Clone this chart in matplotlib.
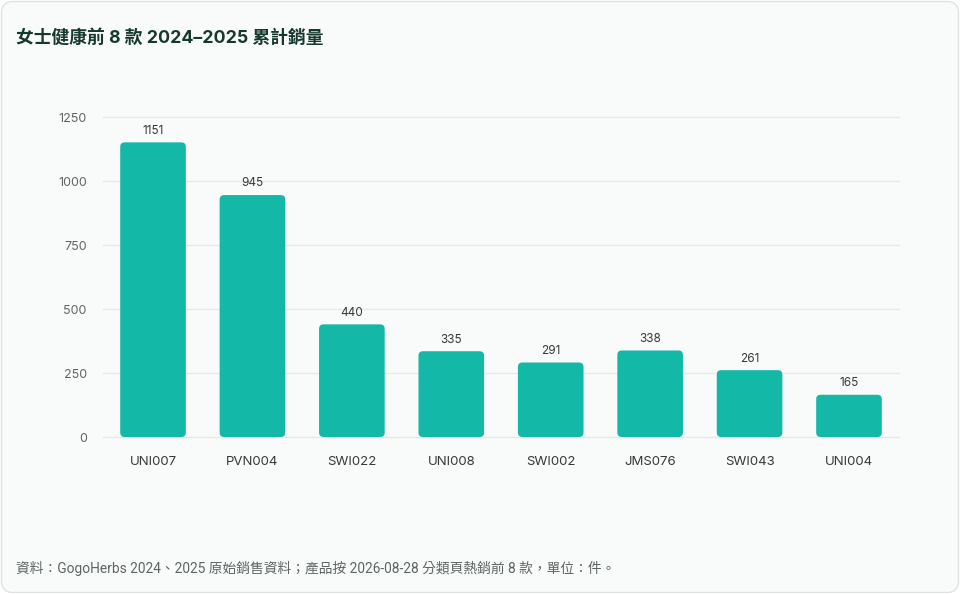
import matplotlib
matplotlib.use("Agg")
import matplotlib.pyplot as plt
from matplotlib.patches import FancyBboxPatch

plt.rcParams['font.family'] = ['Inter', 'Noto Sans CJK TC', 'DejaVu Sans']

products = ['UNI007', 'PVN004', 'SWI022', 'UNI008', 'SWI002', 'JMS076', 'SWI043', 'UNI004']
sales = [1151, 945, 440, 335, 291, 338, 261, 165]
y_ticks = [0, 250, 500, 750, 1000, 1250]

title = '女士健康前 8 款 2024–2025 累計銷量'
footer = '資料：GogoHerbs 2024、2025 原始銷售資料；產品按 2026-08-28 分類頁熱銷前 8 款，單位：件。'

BAR = '#14b8a6'
BG = '#f9fbfa'

fig = plt.figure(figsize=(9.6, 5.94), dpi=100)
fig.patch.set_facecolor('white')

# card behind everything
card = FancyBboxPatch((1.5 / 960, 1.5 / 594), 957 / 960, 591 / 594,
                      boxstyle='round,pad=0,rounding_size=0.012',
                      transform=fig.transFigure, facecolor=BG,
                      edgecolor='#dde3e0', linewidth=1, mutation_aspect=960 / 594,
                      zorder=-10)
fig.patches.append(card)

ax = fig.add_axes([103.3 / 960, (594 - 437) / 594, 795.4 / 960, 320 / 594])
ax.set_facecolor('none')
ax.set_zorder(1)
ax.set_xlim(-0.5, len(products) - 0.5)
ax.set_ylim(0, 1250)

for t in y_ticks:
    ax.axhline(t, color='#e6e9e8', linewidth=1, zorder=0, clip_on=False)

px_x = 795.4 / len(products)
px_y = 320 / 1250
width = 0.66
for i, v in enumerate(sales):
    bar = FancyBboxPatch((i - width / 2, 0), width, v,
                         boxstyle='round,pad=0,rounding_size=0.045',
                         mutation_aspect=px_x / px_y,
                         facecolor=BAR, edgecolor='none', zorder=2)
    ax.add_patch(bar)
    ax.text(i, v + 22, str(v), ha='center', va='bottom', fontsize=8.5,
            color='#333a37', zorder=3)

ax.set_xticks(range(len(products)))
ax.set_xticklabels(products, fontsize=9.5, color='#333a37')
ax.set_yticks(y_ticks)
ax.set_yticklabels([str(t) for t in y_ticks], fontsize=9, color='#5d6562')
ax.tick_params(axis='x', length=0, pad=14)
ax.tick_params(axis='y', length=0, pad=12)
for s in ax.spines.values():
    s.set_visible(False)

fig.text(16 / 960, 1 - 38 / 594, title, fontsize=12.8, fontweight='bold',
         color='#17382f', ha='left', va='center',
         family=['Inter', 'Noto Sans CJK TC'])
fig.text(16 / 960, 1 - 568 / 594, footer, fontsize=9.9, color='#5d6562',
         ha='left', va='center', family=['Roboto', 'Noto Sans CJK TC'])

fig.savefig('out.png', dpi=100, facecolor=fig.get_facecolor())
